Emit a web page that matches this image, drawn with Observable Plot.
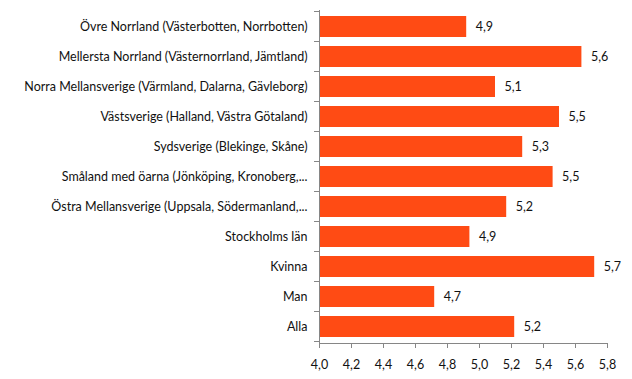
<!DOCTYPE html>
<html>
<head>
<meta charset="utf-8">
<script src="https://cdn.jsdelivr.net/npm/d3@7"></script>
<script src="https://cdn.jsdelivr.net/npm/@observablehq/plot@0.6"></script>
<style>
  html, body { margin: 0; padding: 0; background: #fff; }
  #chart svg { display: block; }
</style>
</head>
<body>
<div id="chart"></div>
<script>
const categories = [
  "Övre Norrland (Västerbotten, Norrbotten)",
  "Mellersta Norrland (Västernorrland, Jämtland)",
  "Norra Mellansverige (Värmland, Dalarna, Gävleborg)",
  "Västsverige (Halland, Västra Götaland)",
  "Sydsverige (Blekinge, Skåne)",
  "Småland med öarna (Jönköping, Kronoberg,...",
  "Östra Mellansverige (Uppsala, Södermanland,...",
  "Stockholms län",
  "Kvinna",
  "Man",
  "Alla"
];
const values = [4.92, 5.64, 5.10, 5.50, 5.27, 5.46, 5.17, 4.94, 5.72, 4.72, 5.22];
const xTicks = [4.0, 4.2, 4.4, 4.6, 4.8, 5.0, 5.2, 5.4, 5.6, 5.8];

const data = categories.map((c, i) => ({category: c, value: values[i]}));
const fmt = v => d3.format(".1f")(v).replace(".", ",");
const font = "Lato, 'Open Sans', sans-serif";
const fs = 12.5;
const axisColor = "#868686";

// Excel-style axis lines and boundary ticks drawn from the scales
function axesMark(index, scales, values, dimensions) {
  const {x, y} = scales;
  const g = d3.create("svg:g").attr("stroke", axisColor).attr("fill", "none").attr("shape-rendering", "crispEdges");
  const x0 = x(xTicks[0]);
  const x1 = x(xTicks[xTicks.length - 1]);
  const top = dimensions.marginTop;
  const bottom = dimensions.height - dimensions.marginBottom;
  g.append("line").attr("x1", x0).attr("x2", x0).attr("y1", top).attr("y2", bottom);
  const step = y.step();
  const offset = (step - y.bandwidth()) / 2;
  const bounds = categories.map(c => y(c) - offset).concat([y(categories[categories.length - 1]) - offset + step]);
  for (const b of bounds) {
    g.append("line").attr("x1", x0 - 5).attr("x2", x0).attr("y1", b).attr("y2", b);
  }
  g.append("line").attr("x1", x0).attr("x2", x1).attr("y1", bottom).attr("y2", bottom);
  for (const t of xTicks) {
    g.append("line").attr("x1", x(t)).attr("x2", x(t)).attr("y1", bottom).attr("y2", bottom + 5);
  }
  return g.node();
}

const chart = Plot.plot({
  width: 632,
  height: 379,
  marginLeft: 319,
  marginRight: 25,
  marginTop: 10,
  marginBottom: 36,
  style: {fontFamily: font, fontSize: fs + "px", color: "#111", background: "#fff"},
  x: {domain: [4, 5.8], axis: null},
  y: {domain: categories, paddingInner: 0.31, paddingOuter: 0.155, axis: null},
  marks: [
    Plot.barX(data, {x1: 4, x2: "value", y: "category", fill: "#FF4B14"}),
    Plot.text(data, {x: "value", y: "category", text: d => fmt(d.value), textAnchor: "start", dx: 9, fill: "#111", fontSize: fs}),
    Plot.axisY({anchor: "left", tickSize: 0, tickPadding: 12, fontSize: fs, fill: "#111", label: null}),
    Plot.axisX({ticks: xTicks, tickFormat: fmt, tickSize: 0, tickPadding: 17, fontSize: fs, fill: "#111", label: null}),
    axesMark
  ]
});
document.getElementById("chart").appendChild(chart);
</script>
</body>
</html>
